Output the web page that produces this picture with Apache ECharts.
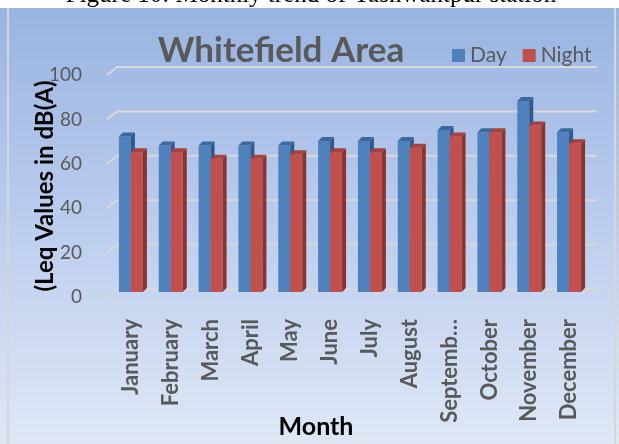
<!DOCTYPE html>
<html>
<head>
<meta charset="utf-8">
<style>
  html, body { margin: 0; padding: 0; background: #fff; }
  #chart { width: 619px; height: 444px; }
</style>
<script src="https://cdn.jsdelivr.net/npm/echarts@6.0.0/dist/echarts.min.js"></script>
</head>
<body>
<div id="chart"></div>
<script>
const months = ['January', 'February', 'March', 'April', 'May', 'June', 'July',
    'August', 'September', 'October', 'November', 'December'];
const dayValues = [70, 66, 66, 66, 66, 68, 68, 68, 73, 72, 86, 72];
const nightValues = [63, 63, 60, 60, 62, 63, 63, 65, 70, 72, 75, 67];
const yTicks = [0, 20, 40, 60, 80, 100];

// fake 3d look
const BAR_W = 12;
const DEPTH_X = 4;
const DEPTH_Y = 4;
const LIFT = 5;      // bars sit a bit behind the front edge
const WALL_X = 10;
const WALL_Y = 8;

const chart = echarts.init(document.getElementById('chart'));

function barItem(left, faces) {
    return function (params, api) {
        const base = api.coord([api.value(0), 0]);
        const top = api.coord([api.value(0), api.value(1)]);
        const x0 = left ? base[0] - BAR_W : base[0];
        const yb = base[1] - LIFT;
        const yt = top[1] - LIFT;
        return {
            type: 'group',
            children: [
                {
                    type: 'rect',
                    shape: { x: x0, y: yt, width: BAR_W, height: yb - yt },
                    style: { fill: faces[0] }
                },
                {
                    type: 'polygon',
                    shape: { points: [[x0 + BAR_W, yb], [x0 + BAR_W + DEPTH_X, yb - DEPTH_Y],
                        [x0 + BAR_W + DEPTH_X, yt - DEPTH_Y], [x0 + BAR_W, yt]] },
                    style: { fill: faces[1] }
                },
                {
                    type: 'polygon',
                    shape: { points: [[x0, yt], [x0 + DEPTH_X, yt - DEPTH_Y],
                        [x0 + BAR_W + DEPTH_X, yt - DEPTH_Y], [x0 + BAR_W, yt]] },
                    style: { fill: faces[2] }
                }
            ]
        };
    };
}

function wallLine(params, api) {
    const p = api.coord([0, api.value(1)]);
    const cs = params.coordSys;
    return {
        type: 'polyline',
        shape: { points: [[cs.x - 4, p[1]], [cs.x - 4 + WALL_X, p[1] - WALL_Y],
            [cs.x + cs.width + 8, p[1] - WALL_Y]] },
        style: { stroke: '#d9d9d9', lineWidth: 2, fill: null }
    };
}

chart.setOption({
    animation: false,
    textStyle: { fontFamily: 'Lato' },
    graphic: [
        {
            type: 'rect',
            z: -10,
            silent: true,
            shape: { x: 0, y: 8, width: 619, height: 436 },
            style: {
                fill: new echarts.graphic.LinearGradient(0, 0, 0, 1, [
                    { offset: 0, color: '#99b4e1' },
                    { offset: 0.5, color: '#bccdee' },
                    { offset: 1, color: '#dfe7f5' }
                ])
            }
        },
        {
            type: 'line',
            z: -5,
            silent: true,
            shape: { x1: 8, y1: 8, x2: 8, y2: 444 },
            style: { stroke: '#d6d6d6', lineWidth: 2 }
        },
        {
            type: 'line',
            z: -5,
            silent: true,
            shape: { x1: 615, y1: 8, x2: 615, y2: 444 },
            style: { stroke: '#d6d6d6', lineWidth: 2 }
        },
        {
            type: 'text',
            silent: true,
            style: {
                text: 'Figure 10: Monthly trend of Yashwantpur station',
                x: 311,
                y: 8,
                textAlign: 'center',
                textVerticalAlign: 'bottom',
                fontFamily: 'Liberation Serif',
                fontSize: 25,
                fill: '#000'
            }
        }
    ],
    title: [
        {
            text: 'Whitefield Area',
            left: 276,
            top: 28,
            textAlign: 'center',
            textStyle: { fontFamily: 'Lato', fontSize: 35, fontWeight: 'bold', color: '#595959' }
        },
        {
            text: 'Month',
            left: 311,
            top: 409,
            textAlign: 'center',
            textStyle: { fontFamily: 'Lato', fontSize: 25, fontWeight: 'bold', color: '#000' }
        }
    ],
    legend: {
        left: 447,
        top: 40,
        itemWidth: 13,
        itemHeight: 13,
        itemGap: 16,
        icon: 'rect',
        textStyle: { fontFamily: 'Lato', fontSize: 21, color: '#595959' },
        data: ['Day', 'Night']
    },
    grid: {
        left: 111,
        right: 30,
        top: 75,
        bottom: 147
    },
    xAxis: {
        type: 'category',
        data: months,
        axisLine: { show: false },
        axisTick: { show: false },
        axisLabel: {
            rotate: 90,
            margin: 22,
            interval: 0,
            fontFamily: 'Lato',
            fontSize: 22,
            fontWeight: 'bold',
            color: '#595959',
            formatter: (m) => m.length > 8 ? m.slice(0, 7) + '…' : m
        }
    },
    yAxis: {
        type: 'value',
        min: 0,
        max: 100,
        interval: 20,
        name: '(Leq Values in dB(A)',
        nameLocation: 'middle',
        nameGap: 54,
        nameMoveOverlap: false,
        nameTextStyle: { fontFamily: 'Lato', fontSize: 24, fontWeight: 'bold', color: '#000' },
        axisLine: { show: false },
        axisTick: { show: false },
        splitLine: { show: false },
        axisLabel: {
            margin: 29,
            fontFamily: 'Lato',
            fontSize: 19,
            color: '#595959'
        }
    },
    series: [
        {
            type: 'custom',
            silent: true,
            z: 1,
            renderItem: wallLine,
            encode: { x: 0, y: 1 },
            data: yTicks.map(v => [0, v])
        },
        {
            name: 'Day',
            type: 'custom',
            itemStyle: { color: '#4f81bd' },
            renderItem: barItem(true, ['#4f81bd', '#33598a', '#3d689e']),
            encode: { x: 0, y: 1 },
            data: dayValues.map((v, i) => [i, v])
        },
        {
            name: 'Night',
            type: 'custom',
            itemStyle: { color: '#c0504d' },
            renderItem: barItem(false, ['#c0504d', '#8a3431', '#a8403d']),
            encode: { x: 0, y: 1 },
            data: nightValues.map((v, i) => [i, v])
        }
    ]
});
</script>
</body>
</html>
